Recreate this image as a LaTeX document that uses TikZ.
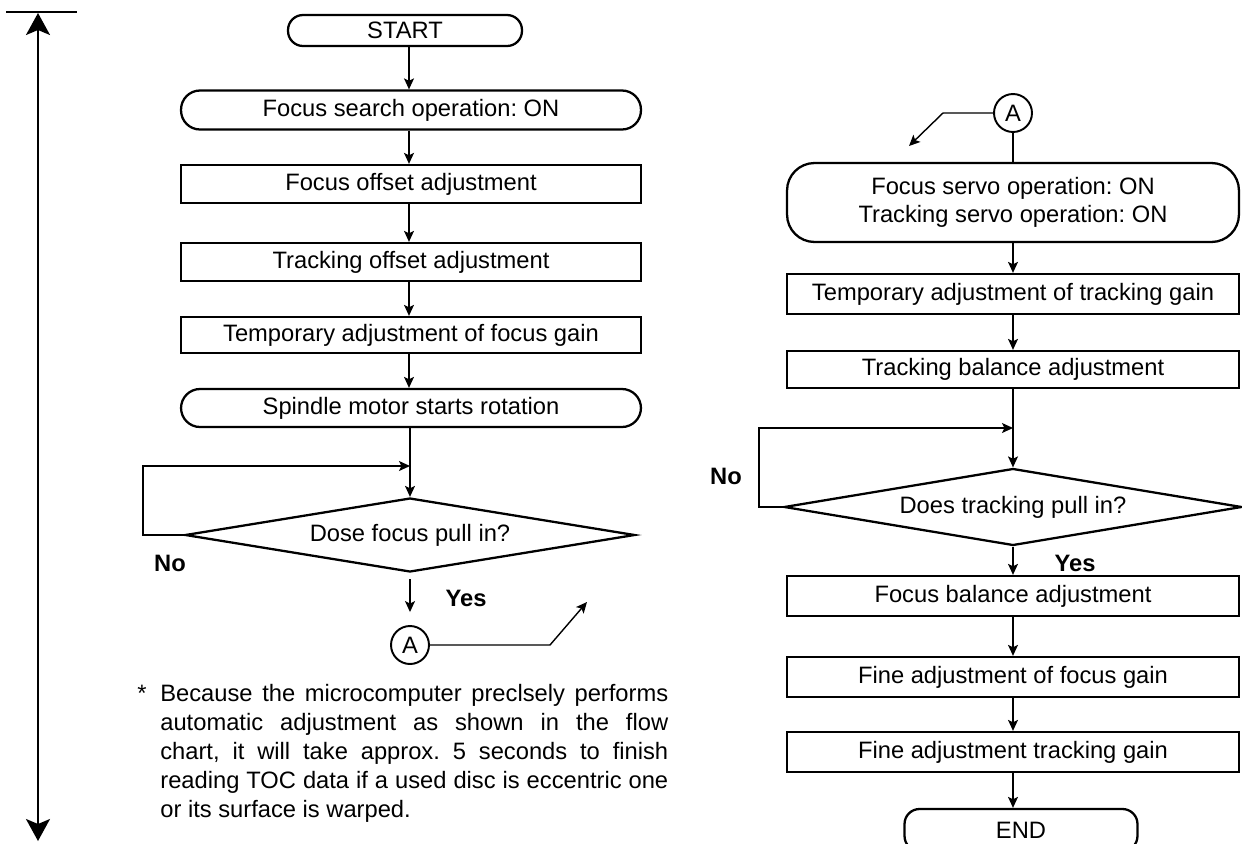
\documentclass[tikz,border=0pt]{standalone}
\usepackage{fontspec}
\setmainfont{Liberation Sans}
\usetikzlibrary{shapes.geometric,arrows.meta}
\frenchspacing
\begin{document}
\begin{tikzpicture}[x=0.02cm,y=-0.02cm,
  font=\fontsize{13.5}{16}\selectfont,
  box/.style={draw, line width=1.3pt, inner sep=0pt},
  term/.style={box, rounded corners=0.38cm},
  decision/.style={draw, line width=1.3pt, shape=diamond, inner sep=0pt, shape aspect=6},
  flow/.style={line width=0.8pt, -{Stealth[length=0.22cm,width=0.2cm,inset=0.05cm]}},
  link/.style={line width=0.8pt},
  conn/.style={draw, circle, line width=1.1pt, minimum size=0.76cm, inner sep=0pt},
  lbl/.style={font=\fontsize{13.5}{16}\selectfont\bfseries},
  bigtip/.tip={Stealth[length=0.44cm,width=0.48cm,inset=0.1cm]}]
\useasboundingbox (0,0) rectangle (1242,843);

% span marker on the left
\coordinate (barL) at (6,12);
\coordinate (barR) at (77,12);
\coordinate (ttop) at (38,13);
\coordinate (tbot) at (38,841);
\draw[line width=1.3pt] (barL) -- (barR);
\draw[line width=1.1pt, {bigtip}-{bigtip}] (tbot) -- (ttop);

% ---------- first half of the procedure ----------
\node[term, minimum width=4.68cm, minimum height=0.62cm, rounded corners=0.3cm] (start) at (405,30.5) {START};
\node[term, minimum width=9.2cm, minimum height=0.78cm] (fsearch) at (411,110) {Focus search operation: ON};
\node[box, minimum width=9.2cm, minimum height=0.76cm] (foff) at (411,184) {Focus offset adjustment};
\node[box, minimum width=9.2cm, minimum height=0.76cm] (toff) at (411,262) {Tracking offset adjustment};
\node[box, minimum width=9.2cm, minimum height=0.72cm] (tfg) at (411,335) {Temporary adjustment of focus gain};
\node[term, minimum width=9.2cm, minimum height=0.76cm] (spin) at (411,408) {Spindle motor starts rotation};
\node[decision, minimum width=9cm, minimum height=1.48cm] (dfocus) at (410,535) {Dose focus pull in?};
\coordinate (jl) at (410,466);

\draw[flow] (start.south -| 409,0) -- (fsearch.north -| 409,0);
\draw[flow] (fsearch.south -| 409,0) -- (foff.north -| 409,0);
\draw[flow] (foff.south -| 409,0) -- (toff.north -| 409,0);
\draw[flow] (toff.south -| 409,0) -- (tfg.north -| 409,0);
\draw[flow] (tfg.south -| 409,0) -- (spin.north -| 409,0);
\draw[flow] (spin.south -| 410,0) -- (dfocus.north);
\draw[flow] (dfocus.west) -- ++(-41,0) |- (jl);
\node[lbl] (nol) at (170,563) {No};

\node[conn] (aleft) at (410,645) {A};
\draw[flow, shorten <=0.12cm, shorten >=0.26cm] (dfocus.south) -- (aleft.north);
\node[lbl] (yesl) at (466,598) {Yes};
\coordinate (aout) at (587,602);
\draw[flow] (aleft.east) -- (550,645) -- (aout);

% footnote
\node[anchor=base west, inner sep=0pt] (star) at (137,701) {*};
\node[anchor=north west, align=left, inner sep=0pt, font=\fontsize{13.5}{16.5}\selectfont] (note) at (160,684)
  {\makebox[10.16cm][s]{Because the microcomputer preclsely performs}\\
   \makebox[10.16cm][s]{automatic adjustment as shown in the flow}\\
   \makebox[10.16cm][s]{chart, it will take approx. 5 seconds to finish}\\
   \makebox[10.16cm][s]{reading TOC data if a used disc is eccentric one}\\
   or its surface is warped.};

% ---------- second half of the procedure ----------
\node[conn] (aright) at (1013,113) {A};
\coordinate (ain) at (909,146);
\draw[flow] (aright.west) -- (943,113) -- (ain);

\node[term, minimum width=9.04cm, minimum height=1.58cm, rounded corners=0.55cm, align=center] (servo) at (1013,202.5)
  {Focus servo operation: ON\\Tracking servo operation: ON};
\draw[link] (aright) -- (servo);
\node[box, minimum width=9.04cm, minimum height=0.8cm] (ttg) at (1013,294) {Temporary adjustment of tracking gain};
\node[box, minimum width=9.04cm, minimum height=0.74cm] (tbal) at (1013,369.5) {Tracking balance adjustment};
\node[decision, minimum width=9.16cm, minimum height=1.54cm] (dtrack) at (1013,507) {Does tracking pull in?};
\coordinate (jr) at (1013,428);
\node[box, minimum width=9.04cm, minimum height=0.8cm] (fbal) at (1013,596) {Focus balance adjustment};
\node[box, minimum width=9.04cm, minimum height=0.8cm] (ffg) at (1013,677) {Fine adjustment of focus gain};
\node[box, minimum width=9.04cm, minimum height=0.8cm] (ftg) at (1013,752) {Fine adjustment tracking gain};
\node[term, minimum width=4.66cm, minimum height=0.84cm, rounded corners=0.3cm] (finish) at (1021,830) {END};

\draw[flow] (servo) -- (ttg);
\draw[flow] (ttg) -- (tbal);
\draw[flow] (tbal) -- (dtrack);
\draw[flow] (dtrack.west) -- ++(-24,0) |- (jr);
\node[lbl, anchor=east] (nor) at (748,476) {No};
\draw[flow] (dtrack) -- (fbal);
\node[lbl] (yesr) at (1075,563) {Yes};
\draw[flow] (fbal) -- (ffg);
\draw[flow] (ffg) -- (ftg);
\draw[flow] (ftg.south) -- (ftg.south |- finish.north);
\end{tikzpicture}
\end{document}
